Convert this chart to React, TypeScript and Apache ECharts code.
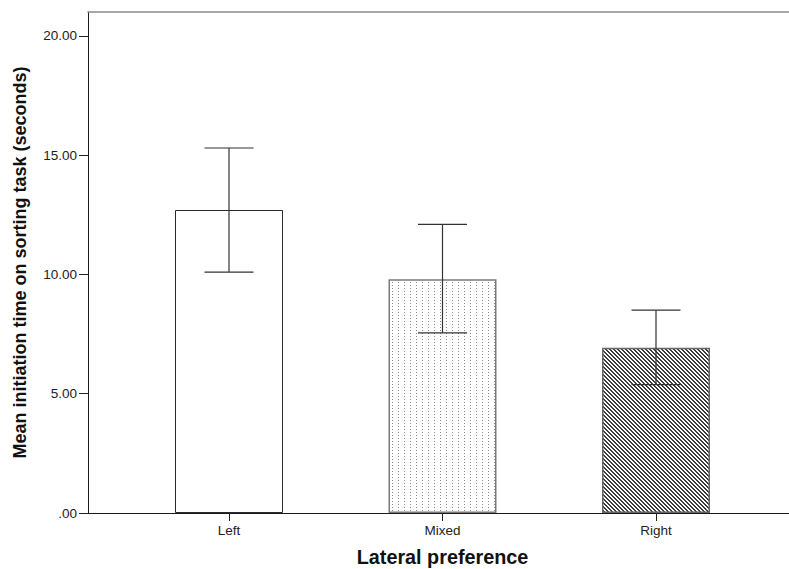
import React, { useEffect, useRef } from "react";
import * as echarts from "echarts";

const categories = ["Left", "Mixed", "Right"];
const means = [12.7, 9.8, 6.93];
const lowerCI = [10.1, 7.55, 5.38];
const upperCI = [15.3, 12.1, 8.5];
const yTickValues = [0, 5, 10, 15, 20];
const yMin = 0;
const yMax = 21;
const yInterval = 5;

function makeDots(): HTMLCanvasElement {
  const c = document.createElement("canvas");
  c.width = 6;
  c.height = 3;
  const ctx = c.getContext("2d")!;
  ctx.fillStyle = "#ffffff";
  ctx.fillRect(0, 0, 6, 3);
  ctx.fillStyle = "#8a8a8a";
  ctx.fillRect(2, 0, 1, 1);
  return c;
}

function makeHatch(): HTMLCanvasElement {
  const s = 4;
  const c = document.createElement("canvas");
  c.width = s;
  c.height = s;
  const ctx = c.getContext("2d")!;
  ctx.fillStyle = "#ffffff";
  ctx.fillRect(0, 0, s, s);
  ctx.fillStyle = "#3c3c3c";
  for (let y = 0; y < s; y++) {
    for (let x = 0; x < s; x++) {
      if (((x - y + 2 * s) % s) < 2) ctx.fillRect(x, y, 1, 1);
    }
  }
  return c;
}

export default function App() {
  const ref = useRef<HTMLDivElement>(null);
  useEffect(() => {
    if (!ref.current) return;
    const chart = echarts.init(ref.current, undefined, { renderer: "svg" });
    const dots = makeDots();
    const hatch = makeHatch();
    const fills: any[] = [
      "#ffffff",
      { image: dots, repeat: "repeat" },
      { image: hatch, repeat: "repeat" },
    ];
    const borders = [
      { c: "#2a2a2a", w: 1 },
      { c: "#7a7a7a", w: 1.5 },
      { c: "#666666", w: 1.5 },
    ];
    const tickFont = { fontFamily: "Liberation Sans", fontSize: 13.5, color: "#222" };
    const gridTop = 12;
    const gridBottom = 56;
    chart.setOption({
      animation: false,
      backgroundColor: "#ffffff",
      grid: [
        { left: 88, right: 0, top: gridTop, bottom: gridBottom, containLabel: false, outerBoundsMode: "none" },
        { left: 122.25, right: 26.25, top: gridTop, bottom: gridBottom, containLabel: false, outerBoundsMode: "none" },
      ],
      xAxis: [
        {
          gridIndex: 0,
          type: "value",
          min: 0,
          max: 1,
          position: "bottom",
          z: 10,
          axisLine: { show: true, onZero: false, lineStyle: { color: "#1a1a1a", width: 1 } },
          axisTick: { show: false },
          axisLabel: { show: false },
          splitLine: { show: false },
        },
        {
          gridIndex: 0,
          type: "value",
          min: 0,
          max: 1,
          position: "top",
          axisLine: { show: true, onZero: false, lineStyle: { color: "#8a8a8a", width: 1.5 } },
          axisTick: { show: false },
          axisLabel: { show: false },
          splitLine: { show: false },
        },
        {
          gridIndex: 1,
          type: "category",
          data: categories,
          position: "bottom",
          boundaryGap: true,
          z: 10,
          axisLine: { show: true, onZero: false, lineStyle: { color: "#1a1a1a", width: 1 } },
          axisTick: { show: true, alignWithLabel: true, length: 8, lineStyle: { color: "#222", width: 1 } },
          axisLabel: { ...tickFont, margin: 10 },
          name: "Lateral preference",
          nameLocation: "middle",
          nameGap: 34,
          nameTextStyle: { fontFamily: "Liberation Sans", fontWeight: "bold", fontSize: 19.8, color: "#111" },
        },
      ],
      yAxis: [
        {
          gridIndex: 0,
          type: "value",
          min: yMin,
          max: yMax,
          interval: yInterval,
          axisLine: { show: true, lineStyle: { color: "#1a1a1a", width: 1 } },
          axisTick: { show: true, length: 9, customValues: yTickValues, lineStyle: { color: "#222", width: 1 } },
          axisLabel: {
            ...tickFont,
            margin: 11,
            customValues: yTickValues,
            formatter: (v: number) => (v === 0 ? ".00" : v.toFixed(2)),
          },
          splitLine: { show: false },
          name: "Mean initiation time on sorting task (seconds)",
          nameLocation: "middle",
          nameGap: 59,
          nameTextStyle: { fontFamily: "Liberation Sans", fontWeight: "bold", fontSize: 18, color: "#111" },
        },
        {
          gridIndex: 1,
          type: "value",
          min: yMin,
          max: yMax,
          interval: yInterval,
          show: false,
          splitLine: { show: false },
        },
      ],
      series: [
        {
          type: "bar",
          xAxisIndex: 2,
          yAxisIndex: 1,
          barWidth: 108,
          z: 2,
          data: means.map((m, i) => ({
            value: m,
            itemStyle: { color: fills[i], borderColor: borders[i].c, borderWidth: borders[i].w },
          })),
        },
        {
          type: "custom",
          xAxisIndex: 2,
          yAxisIndex: 1,
          z: 5,
          data: categories.map((_, i) => [i, lowerCI[i], upperCI[i]]),
          renderItem: (params: any, api: any) => {
            const x = api.value(0);
            const lo = api.coord([x, api.value(1)]);
            const hi = api.coord([x, api.value(2)]);
            const half = 24.5;
            const style = { stroke: "#333", lineWidth: 1.2 };
            return {
              type: "group",
              children: [
                { type: "line", shape: { x1: hi[0], y1: hi[1], x2: lo[0], y2: lo[1] }, style },
                { type: "line", shape: { x1: hi[0] - half, y1: hi[1], x2: hi[0] + half, y2: hi[1] }, style },
                { type: "line", shape: { x1: lo[0] - half, y1: lo[1], x2: lo[0] + half, y2: lo[1] }, style },
              ],
            };
          },
        },
      ],
    });
    return () => chart.dispose();
  }, []);
  return (
    <div
      ref={ref}
      style={{ position: "fixed", left: 0, top: 0, width: 789, height: 569, background: "#fff" }}
    />
  );
}
